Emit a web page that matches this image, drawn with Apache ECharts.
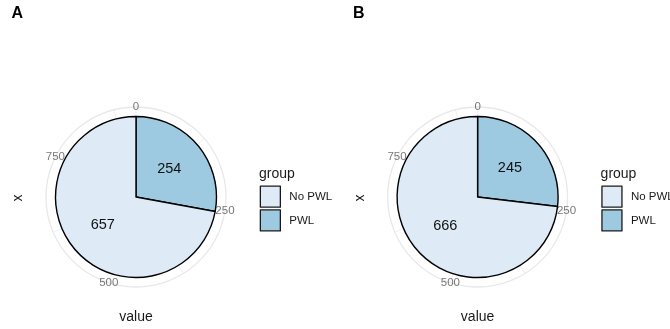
<!DOCTYPE html>
<html>
<head>
<meta charset="utf-8">
<script src="https://cdn.jsdelivr.net/npm/echarts@6/dist/echarts.min.js"></script>
<style>
  html, body { margin: 0; padding: 0; background: #fff; }
  #chart { width: 670px; height: 329px; }
</style>
</head>
<body>
<div id="chart"></div>
<script>
// Counts of PWL / No PWL in two cohorts, drawn as polar pies
const panelTags = ['A', 'B'];
const groupNames = ['No PWL', 'PWL'];
const valuesA = [657, 254];
const valuesB = [666, 245];
const thetaTicks = [0, 250, 500, 750];
const groupColors = ['#DEEBF7', '#9ECAE1'];

const panelValues = [valuesA, valuesB];
const FONT = "'Liberation Sans', Arial, Helvetica, sans-serif";

const chart = echarts.init(document.getElementById('chart'), null, { renderer: 'canvas' });

const polar = [], angleAxis = [], radiusAxis = [], series = [], legend = [], graphic = [];

panelTags.forEach((tag, i) => {
  const dx = i * 341.6;
  const cx = 136 + dx, cy = 197;
  const vals = panelValues[i];
  const total = vals.reduce((a, b) => a + b, 0);

  // polar frame: outer ring, spokes and theta labels
  polar.push({ center: [cx, cy], radius: 90 });
  angleAxis.push({
    polarIndex: i, type: 'value', min: 0, max: total, interval: 125,
    startAngle: 90, clockwise: true,
    axisLine: { show: true, lineStyle: { color: '#E8E8E8', width: 1.3 } },
    axisTick: { show: false },
    axisLabel: { show: false },
    splitLine: { show: true, lineStyle: { color: '#EBEBEB', width: 0.8 } }
  });
  radiusAxis.push({ polarIndex: i, type: 'value', min: 0, max: 1, show: false,
    axisLine: { show: false }, axisLabel: { show: false }, axisTick: { show: false },
    splitLine: { show: false } });

  series.push({
    type: 'scatter', coordinateSystem: 'polar', polarIndex: i,
    symbolSize: 1, itemStyle: { color: 'transparent' }, silent: true, z: 5,
    data: thetaTicks.map(t => [1, t]),
    label: {
      show: true, position: 'inside', formatter: p => String(p.value[1]),
      fontFamily: FONT, fontSize: 11.5, color: '#555555'
    }
  });

  // pie: PWL first so it starts at 12 o'clock going clockwise
  series.push({
    type: 'pie', name: tag, center: [cx, cy], radius: 80.5,
    startAngle: 90, clockwise: true, avoidLabelOverlap: false,
    silent: true, z: 3,
    itemStyle: { borderColor: '#000', borderWidth: 1.4 },
    label: { show: true, position: 'inside', formatter: '{c}',
      fontFamily: FONT, fontSize: 14.5, color: '#111' },
    labelLine: { show: false },
    emphasis: { disabled: true },
    data: [
      { name: groupNames[1], value: vals[1], itemStyle: { color: groupColors[1] } },
      { name: groupNames[0], value: vals[0], itemStyle: { color: groupColors[0] } }
    ]
  });

  legend.push({
    data: groupNames, orient: 'vertical', left: 259.7 + dx, top: 185.5,
    padding: 0, itemWidth: 20, itemHeight: 21, itemGap: 1.5, icon: 'rect',
    selectedMode: false,
    itemStyle: { borderColor: '#1a1a1a', borderWidth: 1.3 },
    textStyle: { fontFamily: FONT, fontSize: 11.5, color: '#1a1a1a', padding: [0, 0, 0, 4] }
  });

  graphic.push(
    { type: 'text', left: 11.5 + dx, top: 5.5, style: { text: tag, font: 'bold 16px ' + FONT, fill: '#000' } },
    { type: 'text', x: 18.5 + dx, y: 198, rotation: Math.PI / 2,
      style: { text: 'x', font: '14px ' + FONT, fill: '#1a1a1a', align: 'center', verticalAlign: 'middle' } },
    { type: 'text', x: cx, y: 317.5,
      style: { text: 'value', font: '14px ' + FONT, fill: '#1a1a1a', align: 'center', verticalAlign: 'middle' } },
    { type: 'text', x: 259 + dx, y: 174,
      style: { text: 'group', font: '14px ' + FONT, fill: '#1a1a1a', align: 'left', verticalAlign: 'middle' } }
  );
});

chart.setOption({
  animation: false,
  backgroundColor: '#fff',
  polar, angleAxis, radiusAxis, series, legend, graphic
});
</script>
</body>
</html>
